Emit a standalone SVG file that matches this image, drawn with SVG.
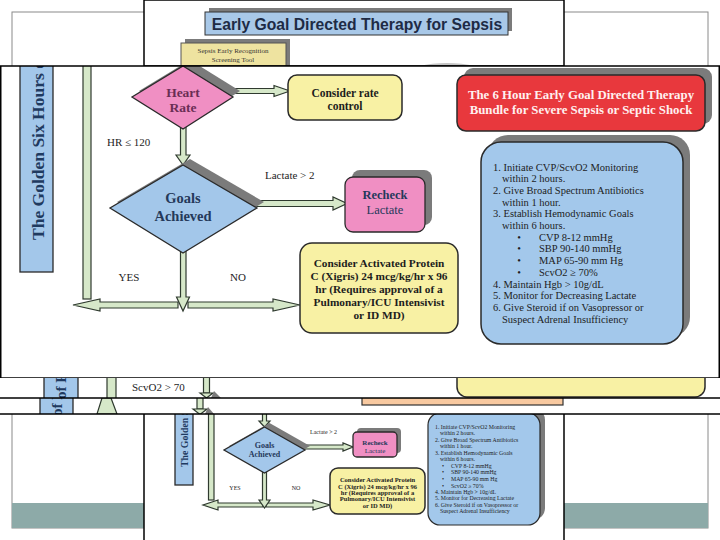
<svg xmlns="http://www.w3.org/2000/svg" width="720" height="540" viewBox="0 0 720 540">
<style>
.s{font-family:"Liberation Serif","Times New Roman",serif}
.b{font-weight:bold}
.c{text-anchor:middle}
.blue{fill:#A3C7EA;stroke:#2a2a2a;stroke-width:1.3}
.pink{fill:#F08FC3;stroke:#2a2a2a;stroke-width:1.3}
.yel{fill:#F8F1A4;stroke:#2a2a2a;stroke-width:1.5}
.red{fill:#E8383D;stroke:#2a2a2a;stroke-width:1.5}
.sh{fill:#7b7b7b}
.grn{fill:#D6E8C9;stroke:#2f3a2f;stroke-width:1.2}
.frame{fill:none;stroke:#000;stroke-width:1.5}
.t{fill:#1d1d1d}
.nv{fill:#25395a}
.pane{fill:#fff}
</style>
<defs>
<clipPath id="cTop"><rect x="144" y="0" width="420" height="66"/></clipPath>
<clipPath id="cMain"><rect x="0" y="66" width="720" height="312"/></clipPath>
<clipPath id="cS2"><rect x="0" y="378" width="720" height="20"/></clipPath>
<clipPath id="cS3"><rect x="0" y="398" width="720" height="16"/></clipPath>
<clipPath id="cBot"><rect x="144" y="414" width="420" height="126"/></clipPath>
</defs>
<rect width="720" height="540" fill="#fff"/>
<g id="slide-background">
<rect x="12" y="12" width="696" height="516" fill="#fff" stroke="#8a8a8a" stroke-width="1"/>
<rect x="12" y="503" width="696" height="25" fill="#8DAAA8"/>
</g>

<g id="top-screenshot">
<rect x="144" y="0" width="420" height="66" class="pane"/>
<g clip-path="url(#cTop)">
<g id="title">
<rect x="209" y="8" width="303" height="23" class="sh"/>
<rect x="205" y="12" width="303" height="23" fill="#A8C8E8" stroke="#333" stroke-width="1"/>
<text x="357" y="29.5" class="c b" font-family="Liberation Sans, Arial, sans-serif" font-size="15.7" fill="#1E2B45">Early Goal Directed Therapy for Sepsis</text>
</g>
<g id="screening-tool">
<rect x="185" y="39" width="105" height="30" class="sh"/>
<rect x="181" y="43" width="105" height="30" fill="#EEE3A0" stroke="#555" stroke-width="1"/>
<text x="233" y="53" class="s c" font-size="7" fill="#333">Sepsis Early Recognition</text>
<text x="233" y="61.5" class="s c" font-size="7" fill="#333">Screening Tool</text>
</g>
<ellipse cx="447" cy="73" rx="38" ry="10" fill="#c4c4c4"/>
</g>
<rect x="144" y="0" width="420" height="66" class="frame"/>
</g>

<g id="main-screenshot">
<rect x="0" y="66" width="720" height="312" class="pane"/>
<g clip-path="url(#cMain)">
<g id="golden-six-hours">
<rect x="20" y="60" width="33" height="212" class="blue"/>
<text transform="translate(43.5,240) rotate(-90)" class="s b" font-size="17.5" fill="#1F3A60">The Golden Six Hours o</text>
</g>
<rect id="timeline-bar" x="83" y="60" width="8" height="239" class="grn"/>
<g id="connectors-main">
<polygon points="222,88.5 274,88.5 274,85.5 290,91 274,96.5 274,93.5 222,93.5" class="grn"/>
<polygon points="180.5,125 186,125 186,155 190,155 183,165 176,155 180.5,155" class="grn"/>
<polygon points="245,200.5 333,200.5 333,197 347,203.5 333,210 333,206.5 245,206.5" class="grn"/>
<polygon points="178,302 100,302 100,299 73,305 100,311 100,308 178,308" class="grn"/>
<polygon points="188,302 273,302 273,299 300,305 273,311 273,308 188,308" class="grn"/>
<polygon points="180.5,250 186,250 186,297 189.5,297 183,311 176.5,297 180.5,297" class="grn"/>
</g>
<g id="heart-rate">
<polygon points="190,60 240,91 190,123 139,91" class="sh"/>
<polygon points="183,66 233,97 183,129 132,97" class="pink"/>
<text x="183" y="96.5" class="s c b" font-size="13.5" fill="#6A2E55">Heart</text>
<text x="183" y="111.5" class="s c b" font-size="13.5" fill="#6A2E55">Rate</text>
</g>
<g id="rate-control">
<rect x="288" y="75" width="114" height="45" rx="9" class="yel"/>
<text x="345" y="96.5" class="s c b t" font-size="11.5">Consider rate</text>
<text x="345" y="110" class="s c b t" font-size="11.5">control</text>
</g>
<g id="goals-achieved">
<polygon points="190,159 264,202 190,247 117,202" class="sh"/>
<polygon points="183,165 257,208 183,253 110,208" class="blue"/>
<text x="183" y="203" class="s c b nv" font-size="14.5">Goals</text>
<text x="183" y="221" class="s c b nv" font-size="14.5">Achieved</text>
</g>
<g id="recheck-lactate">
<rect x="352" y="170" width="80" height="55" rx="8" class="sh"/>
<rect x="345" y="177" width="80" height="55" rx="8" class="pink"/>
<text x="385" y="199" class="s c b nv" font-size="12.5">Recheck</text>
<text x="385" y="214" class="s c nv" font-size="12.5">Lactate</text>
</g>
<g id="activated-protein">
<rect x="300" y="243" width="158" height="90" rx="12" class="yel"/>
<g class="s c b t" font-size="11.3">
<text x="379" y="267">Consider Activated Protein</text>
<text x="379" y="280">C (Xigris) 24 mcg/kg/hr x 96</text>
<text x="379" y="293">hr (Requires approval of a</text>
<text x="379" y="306">Pulmonary/ICU Intensivist</text>
<text x="379" y="319">or ID MD)</text>
</g>
</g>
<g id="labels-main" class="s t" font-size="11">
<text x="107" y="146">HR ≤ 120</text>
<text x="265" y="179">Lactate &gt; 2</text>
<text x="129" y="281" class="c">YES</text>
<text x="238" y="281" class="c">NO</text>
</g>
<g id="bundle-title">
<rect x="464" y="68" width="248" height="56" rx="9" class="sh"/>
<rect x="457" y="75" width="248" height="56" rx="9" class="red"/>
<text x="581" y="98.5" class="s c b" font-size="12.8" fill="#FFF0F0">The 6 Hour Early Goal Directed Therapy</text>
<text x="581" y="113.5" class="s c b" font-size="12.8" fill="#FFF0F0">Bundle for Severe Sepsis or Septic Shock</text>
</g>
<g id="bundle-steps">
<rect x="488" y="135" width="202" height="202" rx="20" class="sh"/>
<rect x="481" y="142" width="202" height="202" rx="20" fill="#A3C8EB" stroke="#2a2a2a" stroke-width="1.5"/>
<g class="s t" font-size="10.5">
<text x="493" y="170.5">1. Initiate CVP/ScvO2 Monitoring</text>
<text x="502" y="182.2">within 2 hours.</text>
<text x="493" y="193.9">2. Give Broad Spectrum Antibiotics</text>
<text x="502" y="205.6">within 1 hour.</text>
<text x="493" y="217.3">3. Establish Hemodynamic Goals</text>
<text x="502" y="229">within 6 hours.</text>
<text x="519" y="240.7" class="c">•</text><text x="539" y="240.7">CVP 8-12 mmHg</text>
<text x="519" y="252.4" class="c">•</text><text x="539" y="252.4">SBP 90-140 mmHg</text>
<text x="519" y="264.1" class="c">•</text><text x="539" y="264.1">MAP 65-90 mm Hg</text>
<text x="519" y="275.8" class="c">•</text><text x="539" y="275.8">ScvO2 ≥ 70%</text>
<text x="493" y="287.5">4. Maintain Hgb &gt; 10g/dL</text>
<text x="493" y="299.2">5. Monitor for Decreasing Lactate</text>
<text x="493" y="310.9">6. Give Steroid if on Vasopressor or</text>
<text x="502" y="322.6">Suspect Adrenal Insufficiency</text>
</g>
</g>
</g>
<rect x="0.75" y="66" width="718.5" height="312" class="frame"/>
</g>

<g id="strip-2">
<rect x="0" y="378" width="720" height="20" class="pane"/>
<g clip-path="url(#cS2)">
<rect x="44" y="370" width="34" height="40" class="blue"/>
<text transform="translate(66,399) rotate(-90)" class="s b" font-size="15" fill="#1F3A60">of E</text>
<rect x="107" y="370" width="9" height="40" class="grn"/>
<text x="132" y="391" class="s t" font-size="11">ScvO2 &gt; 70</text>
<g id="connectors-strip2">
<rect x="203.5" y="372" width="6" height="21" class="grn"/>
<polygon points="200,393 213,393 206.5,398" class="grn"/>
</g>
<polygon points="211,398 214,391 221,398" class="sh"/>
<rect x="457" y="350" width="248" height="47" rx="10" class="yel"/>
</g>
</g>

<g id="strip-3">
<rect x="0" y="398" width="720" height="16" class="pane"/>
<g clip-path="url(#cS3)">
<rect x="40" y="390" width="33" height="40" class="blue"/>
<text transform="translate(62,416) rotate(-90)" class="s b" font-size="15" fill="#1F3A60">of E</text>
<polygon points="102,398 111,398 117,414 97,414" class="grn"/>
<g id="connectors-strip3">
<rect x="197" y="392" width="6" height="17" class="grn"/>
<polygon points="193,409 207,409 200,414.5" class="grn"/>
</g>
<polygon points="205,414 208,407 214,414" class="sh"/>
<rect x="362" y="397.5" width="201" height="7.5" fill="#F8C9A0" stroke="#333" stroke-width="1.2"/>
</g>
</g>

<g id="bottom-screenshot">
<rect x="144" y="414" width="420" height="126" class="pane"/>
<g clip-path="url(#cBot)">
<g id="golden-six-hours-small">
<rect x="175" y="400" width="18" height="85" class="blue"/>
<text transform="translate(187.5,467) rotate(-90)" class="s b" font-size="9.8" fill="#1F3A60">The Golden S</text>
</g>
<rect id="timeline-bar-small" x="208.5" y="410" width="5.5" height="90" class="grn"/>
<g id="connectors-small">
<polygon points="262.5,410 266.5,410 266.5,421 270,421 264.5,427 259,421 262.5,421" class="grn"/>
<polygon points="300,445 343,445 343,443 353,447 343,451 343,449 300,449" class="grn"/>
<polygon points="263,503 218,503 218,500 203,505 218,510 218,507 263,507" class="grn"/>
<polygon points="266,503 313,503 313,500 330,505 313,510 313,507 266,507" class="grn"/>
<polygon points="262.5,470 266.5,470 266.5,500 270,500 264.5,508 259,500 262.5,500" class="grn"/>
</g>
<g id="goals-achieved-small">
<polygon points="269.5,423 310,446 269.5,469 229,446" class="sh"/>
<polygon points="264.5,427 305,450 264.5,473 224,450" class="blue"/>
<text x="264.5" y="447.5" class="s c b nv" font-size="8">Goals</text>
<text x="264.5" y="456.5" class="s c b nv" font-size="8">Achieved</text>
</g>
<g id="recheck-lactate-small">
<rect x="357" y="428" width="44" height="25" rx="4" class="sh"/>
<rect x="353" y="432" width="44" height="25" rx="4" class="pink"/>
<text x="375" y="444.5" class="s c b nv" font-size="7">Recheck</text>
<text x="375" y="452.5" class="s c nv" font-size="7">Lactate</text>
</g>
<g id="activated-protein-small">
<rect x="330" y="468" width="95" height="46" rx="8" class="yel"/>
<g class="s c b t" font-size="6.5">
<text x="377.5" y="482.3">Consider Activated Protein</text>
<text x="377.5" y="488.5">C (Xigris) 24 mcg/kg/hr x 96</text>
<text x="377.5" y="495">hr (Requires approval of a</text>
<text x="377.5" y="501.3">Pulmonary/ICU Intensivist</text>
<text x="377.5" y="507.6">or ID MD)</text>
</g>
</g>
<g id="labels-small" class="s t" font-size="6">
<text x="310" y="434">Lactate &gt; 2</text>
<text x="235" y="490" class="c">YES</text>
<text x="296" y="490" class="c">NO</text>
</g>
<g id="bundle-steps-small">
<rect x="433" y="408" width="112" height="112" rx="12" class="sh"/>
<rect x="428" y="413" width="112" height="112" rx="12" fill="#A3C8EB" stroke="#2a2a2a" stroke-width="1.2"/>
<g class="s t" font-size="5.8">
<text x="435" y="429.4">1. Initiate CVP/ScvO2 Monitoring</text>
<text x="440" y="435.4">within 2 hours.</text>
<text x="435" y="442.1">2. Give Broad Spectrum Antibiotics</text>
<text x="440" y="448.1">within 1 hour.</text>
<text x="435" y="454.8">3. Establish Hemodynamic Goals</text>
<text x="440" y="461.1">within 6 hours.</text>
<text x="443" y="468.1" class="c">•</text><text x="451" y="468.1">CVP 8-12 mmHg</text>
<text x="443" y="474.4" class="c">•</text><text x="451" y="474.4">SBP 90-140 mmHg</text>
<text x="443" y="481.1" class="c">•</text><text x="451" y="481.1">MAP 65-90 mm Hg</text>
<text x="443" y="487.8" class="c">•</text><text x="451" y="487.8">ScvO2 ≥ 70%</text>
<text x="435" y="494.4">4. Maintain Hgb &gt; 10g/dL</text>
<text x="435" y="500.4">5. Monitor for Decreasing Lactate</text>
<text x="435" y="507.1">6. Give Steroid if on Vasopressor or</text>
<text x="440" y="513.1">Suspect Adrenal Insufficiency</text>
</g>
</g>
</g>
<line x1="144" y1="414" x2="144" y2="540" stroke="#000" stroke-width="1.5"/>
<line x1="564" y1="414" x2="564" y2="540" stroke="#000" stroke-width="1.5"/>
</g>
<g id="strip-lines" stroke="#000" stroke-width="1.5">
<line x1="0" y1="398" x2="720" y2="398"/>
<line x1="0" y1="414" x2="720" y2="414"/>
</g>
</svg>
